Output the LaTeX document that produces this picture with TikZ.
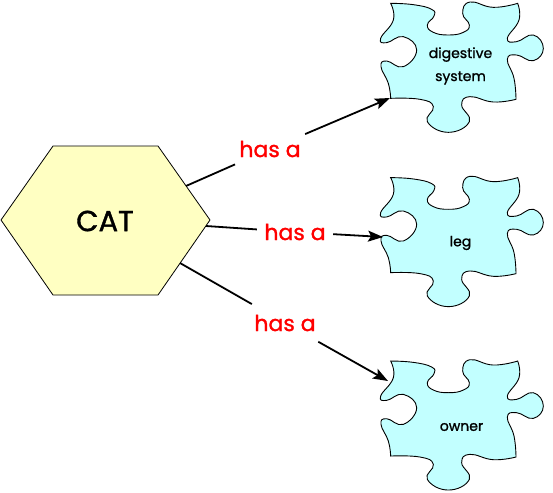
\documentclass[tikz,border=0pt]{standalone}
\usepackage{fontspec}
\setmainfont{Poppins}
\newfontfamily\medfont{Poppins}[FakeBold=1.2]
\usetikzlibrary{arrows.meta}
\definecolor{catfill}{HTML}{FFFFC2}
\definecolor{piecefill}{HTML}{C2FFFF}
\tikzset{
	hasa/.style={circle, inner sep=0pt, minimum size=76pt, text=red, font=\medfont\fontsize{22}{24}\selectfont},
	link/.style={line width=1.8pt, black},
	linkarrow/.style={link, -{Stealth[length=15pt, width=11pt, inset=3pt]}},
	piecetext/.style={inner sep=0pt, align=center, font=\medfont\fontsize{14}{23}\selectfont},
	puzzle/.pic={
		\draw[fill=piecefill, line width=0.9pt, scale=1/3]
			plot[smooth, tension=0.8] coordinates {(62,10) (130,14) (185,28) (192,48) (172,75) (190,97) (235,105) (280,97) (298,75) (278,40) (300,6) (370,22) (443,10)}
			-- plot[smooth, tension=0.8] coordinates {(443,10) (447,60) (412,115) (440,125) (490,105) (520,145) (490,182) (440,165) (412,178) (432,235) (438,298)}
			-- plot[smooth, tension=0.8] coordinates {(438,298) (370,306) (300,290) (275,315) (298,365) (235,397) (172,365) (190,320) (150,298) (62,295)}
			-- plot[smooth, tension=0.8] coordinates {(62,295) (55,250) (33,200) (50,183) (100,200) (140,150) (100,110) (50,128) (32,115) (70,60) (62,10)}
			-- cycle;
	}
}
\begin{document}
\begin{tikzpicture}[x=1pt, y=-1pt]
	\useasboundingbox (0,0) rectangle (553,492);

	%hexagon
	\draw[fill=catfill, line width=0.8pt] (1,220) -- (53,146) -- (158,146) -- (210,220) -- (158,295) -- (53,295) -- cycle;
	\node[font=\medfont\fontsize{29}{30}\selectfont, inner sep=0pt] (cat) at (105,221) {CAT};

	%puzzle pieces
	\pic at (370,0) {puzzle};
	\pic at (370,174.3) {puzzle};
	\pic at (370,357.7) {puzzle};
	\node[piecetext] (digestive) at (460.5,66) {digestive\\system};
	\node[piecetext] (leg) at (460.5,243) {leg};
	\node[piecetext] (owner) at (461.5,427) {owner};

	%connector ends
	\coordinate (catA) at (186,186);
	\coordinate (catB) at (206,226);
	\coordinate (catC) at (180,263);
	\coordinate (pieceA) at (390,98);
	\coordinate (pieceB) at (383,237);
	\coordinate (pieceC) at (388,381);

	%labels
	\node[hasa] (hasA) at (270,149) {has a};
	\node[hasa] (hasB) at (295,232) {has a};
	\node[hasa] (hasC) at (285,323) {has a};

	%connectors
	\draw[link] (catA) -- (hasA);
	\draw[link] (catB) -- (hasB);
	\draw[link] (catC) -- (hasC);
	\draw[linkarrow] (hasA) -- (pieceA);
	\draw[linkarrow] (hasB) -- (pieceB);
	\draw[linkarrow] (hasC) -- (pieceC);

\end{tikzpicture}
\end{document}
